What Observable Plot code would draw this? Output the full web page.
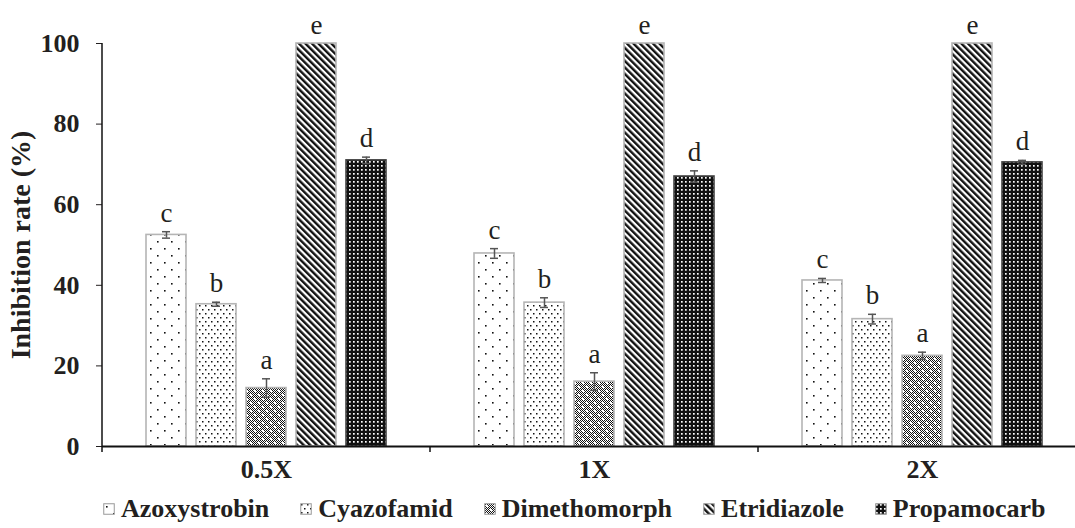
<!DOCTYPE html>
<html><head><meta charset="utf-8">
<script src="https://cdn.jsdelivr.net/npm/d3@7"></script>
<script src="https://cdn.jsdelivr.net/npm/@observablehq/plot@0.6"></script>
<style>
body{margin:0;background:#fff;font-family:"Liberation Serif",serif;}
#legend{display:flex;align-items:center;margin-left:103px;height:38px;font-weight:bold;font-size:26px;color:#231f20;white-space:nowrap}
.item{display:flex;align-items:center;margin-right:31px}
.item svg{margin-right:6px}
</style></head><body>
<svg width="0" height="0" style="position:absolute">
<defs>
<pattern id="pAzo" width="14" height="14" patternUnits="userSpaceOnUse"><rect width="14" height="14" fill="#fff"/><rect x="3" y="3" width="1.6" height="1.6" fill="#111"/><rect x="10" y="10" width="1.6" height="1.6" fill="#111"/></pattern>
<pattern id="pCya" width="6" height="8" patternUnits="userSpaceOnUse"><rect width="6" height="8" fill="#fff"/><rect x="1" y="1" width="1.5" height="1.5" fill="#111"/><rect x="4" y="5" width="1.5" height="1.5" fill="#111"/></pattern>
<pattern id="pChk" width="2" height="2" patternUnits="userSpaceOnUse"><rect width="2" height="2" fill="#fff"/><rect width="1" height="1" fill="#111"/><rect x="1" y="1" width="1" height="1" fill="#111"/></pattern>
<pattern id="pDim" width="8" height="8" patternUnits="userSpaceOnUse"><rect width="8" height="8" fill="url(#pChk)"/><rect x="2" y="2" width="2" height="2" fill="#fff"/><rect x="6" y="6" width="2" height="2" fill="#fff"/></pattern>
<pattern id="pEtr" width="4.6" height="4.6" patternUnits="userSpaceOnUse" patternTransform="rotate(-45)"><rect width="4.6" height="4.6" fill="#fff"/><rect width="2.4" height="4.6" fill="#111"/></pattern>
<pattern id="pPro" width="4" height="4" patternUnits="userSpaceOnUse"><rect width="4" height="4" fill="#111"/><rect x="1" y="1" width="1.7" height="1.7" fill="#fff"/></pattern>
</defs></svg>
<div id="chart"></div>
<div id="legend"></div>
<script>
const groups = ["0.5X", "1X", "2X"];
const fungicides = ["Azoxystrobin", "Cyazofamid", "Dimethomorph", "Etridiazole", "Propamocarb"];
const mean05 = [52.5, 35.3, 14.5, 100, 71.0];
const mean1  = [47.9, 35.7, 16.1, 100, 67.0];
const mean2  = [41.2, 31.6, 22.5, 100, 70.5];
const sd05 = [0.8, 0.5, 2.3, 0, 0.8];
const sd1  = [1.2, 1.2, 2.2, 0, 1.4];
const sd2  = [0.5, 1.2, 0.9, 0, 0.5];
const letters = ["c", "b", "a", "e", "d"];
const yTicks = [0, 20, 40, 60, 80, 100];
const fills = ["url(#pAzo)", "url(#pCya)", "url(#pDim)", "url(#pEtr)", "url(#pPro)"];
const strokes = ["#b5b5b5", "#b5b5b5", "#b5b5b5", "#b5b5b5", "#444"];

const means = [mean05, mean1, mean2];
const sds = [sd05, sd1, sd2];
const data = [];
groups.forEach((g, gi) => fungicides.forEach((f, fi) => data.push({
  group: g, fungicide: f, mean: means[gi][fi], sd: sds[gi][fi], letter: letters[fi],
  fill: fills[fi], stroke: strokes[fi]
})));

const chart = Plot.plot({
  width: 1075, height: 490,
  marginTop: 43, marginBottom: 44, marginLeft: 102, marginRight: -11,
  style: {fontFamily: '"Liberation Serif", serif', fontSize: "26px", fontWeight: "bold", color: "#231f20", background: "#fff"},
  fx: {domain: groups, paddingInner: 0, paddingOuter: 0, label: null},
  x: {domain: fungicides, paddingInner: 0.21, paddingOuter: 0.865, axis: null},
  y: {domain: [0, 100], axis: null},
  color: {type: "identity"},
  marks: [
    Plot.barY(data, {fx: "group", x: "fungicide", y: "mean", fill: "fill", stroke: "stroke", strokeWidth: 1.6}),
    Plot.ruleX(data.filter(d => d.sd > 0), {fx: "group", x: "fungicide", y1: d => d.mean - d.sd, y2: d => d.mean + d.sd, stroke: "#555", strokeWidth: 1.5}),
    Plot.tickY(data.filter(d => d.sd > 0), {fx: "group", x: "fungicide", y: d => d.mean + d.sd, stroke: "#555", strokeWidth: 1.5, insetLeft: 16, insetRight: 16}),
    Plot.tickY(data.filter(d => d.sd > 0), {fx: "group", x: "fungicide", y: d => d.mean - d.sd, stroke: "#555", strokeWidth: 1.5, insetLeft: 16, insetRight: 16}),
    Plot.text(data, {fx: "group", x: "fungicide", y: d => d.mean + d.sd, text: "letter", lineAnchor: "bottom", dy: -10, fontWeight: "normal", fontSize: 27, fill: "#231f20"}),
    Plot.ruleY([0], {stroke: "#111", strokeWidth: 2}),
    Plot.axisY({ticks: yTicks, tickSize: 6, tickPadding: 17, label: "Inhibition rate (%)", labelAnchor: "center", labelOffset: 92, labelArrow: "none", fontSize: 26}),
    Plot.axisFx({anchor: "bottom", tickSize: 0, tickPadding: 13, label: null, fontSize: 26})
  ]
});
document.getElementById("chart").appendChild(chart);
d3.select(chart).selectAll("[aria-label='y-axis label'] text, g[aria-label='y-axis label']").style("font-size", "28px");

// axis line and group separator ticks, placed through the plot's own scales
const svg = d3.select(chart);
const fxs = chart.scale("fx"), ys = chart.scale("y");
const y0 = ys.apply(0), yTop = ys.apply(100);
svg.append("line").attr("x1", fxs.apply(groups[0])).attr("x2", fxs.apply(groups[0]))
  .attr("y1", yTop).attr("y2", y0 + 6).attr("stroke", "#111").attr("stroke-width", 1.5);
groups.slice(1).forEach(g => {
  svg.append("line").attr("x1", fxs.apply(g)).attr("x2", fxs.apply(g))
    .attr("y1", y0).attr("y2", y0 + 6).attr("stroke", "#111").attr("stroke-width", 1.5);
});

// legend
const legend = document.getElementById("legend");
fungicides.forEach((f, i) => {
  const item = document.createElement("div");
  item.className = "item";
  item.innerHTML = `<svg width="12" height="12"><rect x="0.75" y="0.75" width="10.5" height="10.5" fill="${fills[i]}" stroke="#999" stroke-width="1"/></svg><span>${f}</span>`;
  legend.appendChild(item);
});
</script></body></html>
